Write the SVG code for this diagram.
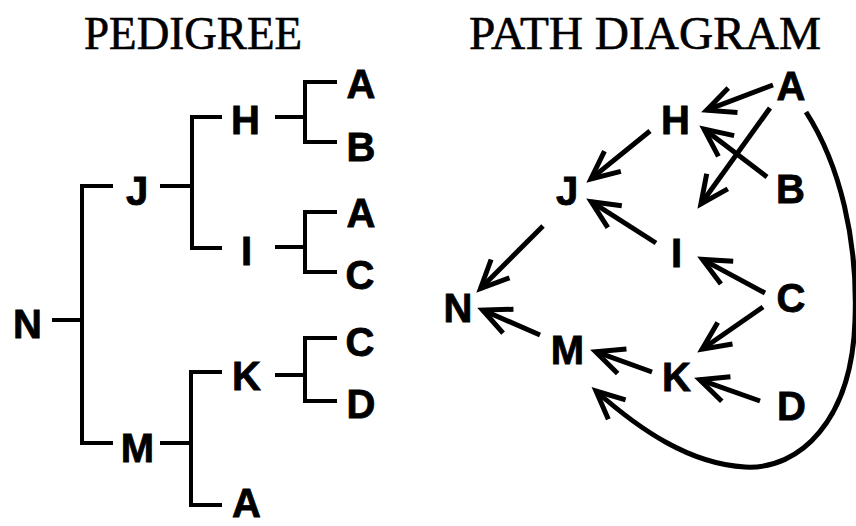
<svg xmlns="http://www.w3.org/2000/svg" width="856" height="526" viewBox="0 0 856 526">
  <style>
    .title { font-family: "Liberation Serif", "Times New Roman", serif; font-size: 47px; fill: #000; stroke: #000; stroke-width: 0.6; }
    .lbl { font-family: "Liberation Sans", Arial, sans-serif; font-weight: bold; font-size: 40px; fill: #000; stroke: #000; stroke-width: 0.8; text-anchor: middle; }
    .tree { fill: none; stroke: #000; stroke-width: 4; stroke-linejoin: miter; stroke-linecap: butt; }
    .arr { fill: none; stroke: #000; stroke-width: 5; stroke-linecap: butt; marker-end: url(#head); }
  </style>
  <defs>
    <marker id="head" markerUnits="userSpaceOnUse" orient="auto" refX="0" refY="0" markerWidth="40" markerHeight="40" viewBox="-32 -20 40 40" overflow="visible">
      <path d="M-28,-13 L0,0 L-28,13" fill="none" stroke="#000" stroke-width="5" stroke-linejoin="miter" stroke-miterlimit="10"/>
    </marker>
  </defs>
  <rect width="856" height="526" fill="#fff"/>

  <!-- headings -->
  <text class="title" x="84" y="49" textLength="218" lengthAdjust="spacingAndGlyphs">PEDIGREE</text>
  <text class="title" x="469" y="49" textLength="352" lengthAdjust="spacingAndGlyphs">PATH DIAGRAM</text>

  <!-- pedigree: bracket lines -->
  <g id="pedigree-lines">
    <line class="tree" x1="52" y1="320" x2="82" y2="320"/>
    <polyline class="tree" points="113,186 82,186 82,443 113,443"/>
    <line class="tree" x1="160" y1="186" x2="192" y2="186"/>
    <polyline class="tree" points="222,117 192,117 192,248 222,248"/>
    <line class="tree" x1="275" y1="117" x2="305" y2="117"/>
    <polyline class="tree" points="337,82 305,82 305,142 337,142"/>
    <line class="tree" x1="275" y1="247" x2="305" y2="247"/>
    <polyline class="tree" points="337,212 305,212 305,272 337,272"/>
    <line class="tree" x1="160" y1="443" x2="191" y2="443"/>
    <polyline class="tree" points="222,372 191,372 191,505 222,505"/>
    <line class="tree" x1="275" y1="375" x2="305" y2="375"/>
    <polyline class="tree" points="337,338 305,338 305,401 337,401"/>
  </g>

  <!-- pedigree: individuals -->
  <g id="ped-N"><text class="lbl" x="27.5" y="338">N</text></g>
  <g id="ped-J"><text class="lbl" x="137" y="205">J</text></g>
  <g id="ped-M"><text class="lbl" x="137.5" y="462">M</text></g>
  <g id="ped-H"><text class="lbl" x="245.5" y="134">H</text></g>
  <g id="ped-I"><text class="lbl" x="246.5" y="265">I</text></g>
  <g id="ped-K"><text class="lbl" x="246.5" y="390">K</text></g>
  <g id="ped-A3"><text class="lbl" x="246.5" y="517">A</text></g>
  <g id="ped-A1"><text class="lbl" x="361" y="98">A</text></g>
  <g id="ped-B"><text class="lbl" x="361" y="161">B</text></g>
  <g id="ped-A2"><text class="lbl" x="361" y="227">A</text></g>
  <g id="ped-C1"><text class="lbl" x="360" y="289">C</text></g>
  <g id="ped-C2"><text class="lbl" x="360" y="356">C</text></g>
  <g id="ped-D"><text class="lbl" x="361" y="418">D</text></g>

  <!-- path diagram: nodes -->
  <g id="path-A"><text class="lbl" x="791" y="100">A</text></g>
  <g id="path-H"><text class="lbl" x="675.5" y="134">H</text></g>
  <g id="path-B"><text class="lbl" x="790.5" y="203">B</text></g>
  <g id="path-J"><text class="lbl" x="567" y="205">J</text></g>
  <g id="path-I"><text class="lbl" x="676.5" y="267">I</text></g>
  <g id="path-N"><text class="lbl" x="458" y="322">N</text></g>
  <g id="path-C"><text class="lbl" x="791" y="312">C</text></g>
  <g id="path-M"><text class="lbl" x="567.5" y="364">M</text></g>
  <g id="path-K"><text class="lbl" x="676.5" y="391">K</text></g>
  <g id="path-D"><text class="lbl" x="791.5" y="420">D</text></g>

  <!-- path diagram: connectors -->
  <g id="connectors">
    <line class="arr" x1="773" y1="85" x2="706.7" y2="110.2"/>
    <line class="arr" x1="770" y1="108" x2="700.9" y2="204"/>
    <line class="arr" x1="767" y1="177" x2="704" y2="129"/>
    <line class="arr" x1="650" y1="131" x2="590.9" y2="178.9"/>
    <line class="arr" x1="656" y1="243" x2="591.2" y2="201.7"/>
    <line class="arr" x1="543" y1="226" x2="480.5" y2="288.5"/>
    <line class="arr" x1="765" y1="293" x2="702.4" y2="259.4"/>
    <line class="arr" x1="540" y1="335" x2="482.6" y2="310"/>
    <line class="arr" x1="763" y1="307" x2="702.1" y2="349.2"/>
    <line class="arr" x1="652" y1="372" x2="595.7" y2="351.7"/>
    <line class="arr" x1="760" y1="401" x2="699.7" y2="379.7"/>
    <path class="arr" d="M806,112 C840,165 858,240 855,320 C852,420 800,470 745,467 C690,464 640,430 596,391"/>
  </g>
</svg>
